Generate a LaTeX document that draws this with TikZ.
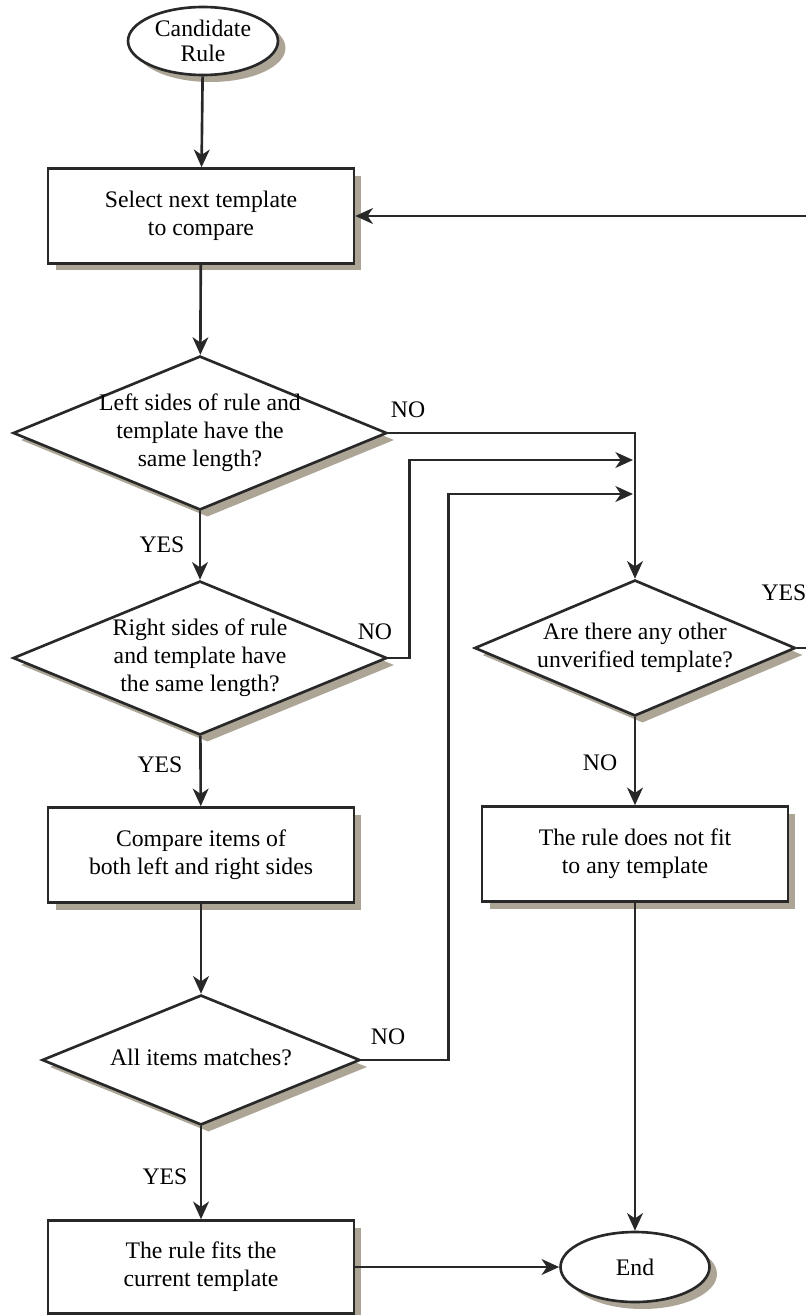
\documentclass[tikz,border=0pt]{standalone}
\usepackage{fontspec}
\setmainfont{Liberation Serif}
\usetikzlibrary{shapes.geometric,shadows,arrows.meta}
\definecolor{shadowtan}{RGB}{172,165,150}
\definecolor{edge}{RGB}{40,40,40}
\tikzstyle{chart}=[draw=edge, line width=1.5pt, fill=white, align=center,
	drop shadow={shadow xshift=0.15cm, shadow yshift=-0.14cm, fill=shadowtan, opacity=1}]
\tikzstyle{process}=[chart, rectangle, minimum width=6.12cm, minimum height=1.9cm]
\tikzstyle{decision}=[chart, diamond, inner sep=0pt]
\tikzstyle{terminal}=[chart, ellipse, inner sep=0pt]
\tikzstyle{answer}=[inner sep=0pt]
\tikzstyle{wire}=[draw=edge, line width=1.5pt]
\tikzstyle{line}=[wire, -{Stealth[length=10pt,width=9pt,inset=3pt]}]
\newcommand{\flowNode}[3]{node (#1) [#2]
	{#3}}
\newcommand{\centred}[1]{\makebox[0pt]{\begin{tabular}{@{}c@{}}#1\end{tabular}}}

\begin{document}
\begin{tikzpicture}[x=0.02cm, y=-0.02cm, font=\fontsize{13.5pt}{16pt}\selectfont]
	\useasboundingbox (0,0) rectangle (805,1315);

	% Left column
	\path (203,41) \flowNode{start}{terminal, minimum width=3cm, minimum height=1.36cm,
		font=\fontsize{13.5pt}{14.5pt}\selectfont}{Candidate\\Rule};
	\path (201,216) \flowNode{select}{process}{Select next template\\to compare};
	\path (200,433) \flowNode{len1}{decision, minimum width=7.48cm, minimum height=3.08cm}
		{\centred{Left sides of rule and\\template have the\\same length?}};
	\path (200,658) \flowNode{len2}{decision, minimum width=7.48cm, minimum height=3.08cm}
		{\centred{Right sides of rule\\and template have\\the same length?}};
	\path (201,855) \flowNode{compare}{process}{Compare items of\\both left and right sides};
	\path (201,1060) \flowNode{match}{decision, minimum width=6.36cm, minimum height=2.6cm}
		{\centred{All items matches?}};
	\path (201,1267) \flowNode{fits}{process, minimum height=1.86cm}{The rule fits the\\current template};

	% Right column
	\path (635,648) \flowNode{other}{decision, minimum width=6.42cm, minimum height=2.72cm}
		{\centred{Are there any other\\unverified template?}};
	\path (635,854) \flowNode{nofit}{process}{The rule does not fit\\to any template};
	\path (635,1267) \flowNode{end}{terminal, minimum width=2.98cm, minimum height=1.4cm}{End};

	% Joints on the vertical line and the loop back
	\coordinate (join1) at (633,460);
	\coordinate (join2) at (633,494);
	\coordinate (loop) at (808,216);

	% Draw arrows between elements
	\path [line] (start) -- (select);
	\path [line] (select) -- (len1);
	\path [line] (len1) -- (len2);
	\path [line] (len2) -- (compare);
	\path [line] (compare) -- (match);
	\path [line] (match) -- (fits);
	\path [line] (fits) -- (end);

	\path [line] (len1.east) -| (other.north);
	\path [line] (len2.east) -- ++(21,0) |- (join1);
	\path [line] (match.east) -- ++(87,0) |- (join2);
	\path [line] (other.east) -| (loop) -- (select.east);
	\path [line] (other) -- (nofit);
	\path [line] (nofit) -- (end);

	% Answers
	\node (no1) [answer] at (408,410) {NO};
	\node (no2) [answer] at (375,632) {NO};
	\node (no3) [answer] at (388,1037) {NO};
	\node (no4) [answer] at (600,763) {NO};
	\node (yes1) [answer] at (162,545) {YES};
	\node (yes2) [answer] at (160,765) {YES};
	\node (yes3) [answer] at (165,1177) {YES};
	\node (yes4) [answer] at (784,593) {YES};

\end{tikzpicture}
\end{document}
